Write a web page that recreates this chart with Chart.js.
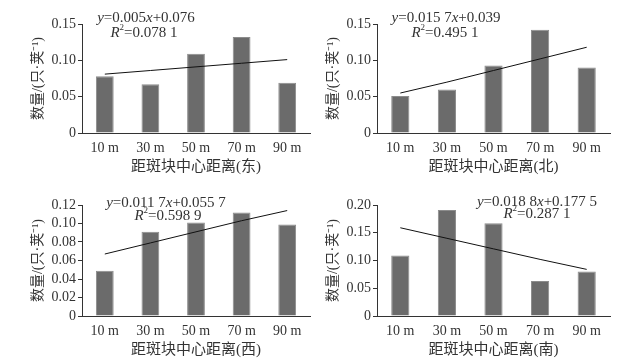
<!DOCTYPE html>
<html>
<head>
<meta charset="utf-8">
<script src="https://cdn.jsdelivr.net/npm/chart.js@4.4.1/dist/chart.umd.min.js"></script>
<style>
  html, body { margin: 0; padding: 0; background: #fff; }
  body { width: 626px; height: 363px; position: relative; overflow: hidden; }
  canvas { position: absolute; }
</style>
</head>
<body>
<canvas id="east" width="313" height="180" style="left:0;top:0"></canvas>
<canvas id="north" width="331" height="180" style="left:295px;top:0"></canvas>
<canvas id="west" width="313" height="183" style="left:0;top:180px"></canvas>
<canvas id="south" width="331" height="183" style="left:295px;top:180px"></canvas>
<script>
// 数据
const categories = ["10 m", "30 m", "50 m", "70 m", "90 m"];

const eastValues  = [0.078, 0.067, 0.109, 0.132, 0.069];
const northValues = [0.051, 0.060, 0.093, 0.142, 0.090];
const westValues  = [0.049, 0.091, 0.101, 0.112, 0.099];
const southValues = [0.109, 0.191, 0.167, 0.063, 0.080];

// 趋势线
const eastTrend  = [0.081, 0.086, 0.091, 0.096, 0.101];
const northTrend = [0.055, 0.070, 0.086, 0.102, 0.118];
const westTrend  = [0.067, 0.079, 0.091, 0.103, 0.114];
const southTrend = [0.159, 0.140, 0.121, 0.102, 0.084];

// 坐标轴
const eastAxis  = { max: 0.15, step: 0.05 };
const northAxis = { max: 0.15, step: 0.05 };
const westAxis  = { max: 0.12, step: 0.02 };
const southAxis = { max: 0.20, step: 0.05 };

const yTitle = "数量/(只·荚⁻¹)";
const xTitles = ["距斑块中心距离(东)", "距斑块中心距离(北)", "距斑块中心距离(西)", "距斑块中心距离(南)"];

const eqTexts = [
    ["0.005", "+0.076", "0.078 1"],
    ["0.015 7", "+0.039", "0.495 1"],
    ["0.011 7", "+0.055 7", "0.598 9"],
    ["0.018 8", "+0.177 5", "0.287 1"]
];

const FONT = "'Liberation Serif', 'Noto Sans CJK SC', serif";
const TEXT = "#333";

// 回归方程文字
const eqPlugin = {
    id: "eq",
    afterDraw(chart, args, opts) {
        const ctx = chart.ctx;
        ctx.save();
        ctx.fillStyle = TEXT;
        ctx.textBaseline = "middle";
        opts.lines.forEach(line => {
            const fontOf = p => (p.it ? "italic " : "") + (p.sup ? 9 : 15) + "px " + FONT;
            let total = 0;
            line.parts.forEach(p => { ctx.font = fontOf(p); total += ctx.measureText(p.t).width; });
            let x = line.x - total / 2;
            line.parts.forEach(p => {
                ctx.font = fontOf(p);
                ctx.fillText(p.t, x, line.y + (p.sup ? -5 : 0));
                x += ctx.measureText(p.t).width;
            });
        });
        ctx.restore();
    }
};

function makeChart(id, values, trend, axis, xTitle, eq, eqPos, padRight) {
    const ctx = document.getElementById(id);
    return new Chart(ctx, {
        data: {
            labels: categories,
            datasets: [
                {
                    type: "line",
                    data: trend,
                    borderColor: "#111",
                    borderWidth: 1,
                    pointRadius: 0,
                    fill: false,
                    order: 0
                },
                {
                    type: "bar",
                    data: values,
                    backgroundColor: "#6b6b6b",
                    borderColor: "#8c8c8c",
                    borderWidth: 1,
                    categoryPercentage: 1,
                    barPercentage: 0.39,
                    order: 1
                }
            ]
        },
        options: {
            responsive: false,
            animation: false,
            layout: { padding: { top: eqPos.top, right: padRight, left: 0, bottom: 0 } },
            plugins: {
                legend: { display: false },
                tooltip: { enabled: false },
                eq: {
                    lines: [
                        { x: eqPos.x1, y: eqPos.y1, parts: [
                            { t: "y", it: true }, { t: "=" + eq[0] }, { t: "x", it: true }, { t: eq[1] }
                        ] },
                        { x: eqPos.x2, y: eqPos.y2, parts: [
                            { t: "R", it: true }, { t: "2", sup: true }, { t: "=" + eq[2] }
                        ] }
                    ]
                }
            },
            scales: {
                x: {
                    grid: { display: false, drawTicks: false },
                    border: { display: true, color: "#333", width: 1 },
                    ticks: { color: TEXT, font: { family: FONT, size: 14 }, padding: 7, autoSkip: false, maxRotation: 0 },
                    title: {
                        display: true, text: xTitle, color: TEXT,
                        font: { family: FONT, size: 15 }, padding: { top: 0, bottom: 4 }
                    },
                    afterFit: s => { s.height = 47; }
                },
                y: {
                    min: 0,
                    max: axis.max,
                    grid: { drawOnChartArea: false, tickLength: 4, color: "#333" },
                    border: { display: true, color: "#333", width: 1 },
                    ticks: {
                        stepSize: axis.step,
                        autoSkip: false,
                        color: TEXT,
                        font: { family: FONT, size: 14 },
                        padding: 2,
                        callback: v => v === 0 ? "0" : v.toFixed(2)
                    },
                    title: {
                        display: true, text: yTitle, color: TEXT,
                        font: { family: FONT, size: 14 }, padding: { top: 30, bottom: 0 }
                    },
                    afterFit: s => { s.width = 82; }
                }
            }
        },
        plugins: [eqPlugin]
    });
}

makeChart("east", eastValues, eastTrend, eastAxis, xTitles[0], eqTexts[0],
    { top: 24, x1: 146, y1: 18, x2: 144, y2: 33 }, 3);
makeChart("north", northValues, northTrend, northAxis, xTitles[1], eqTexts[1],
    { top: 24, x1: 151, y1: 18, x2: 150, y2: 33 }, 16);
makeChart("west", westValues, westTrend, westAxis, xTitles[2], eqTexts[2],
    { top: 25, x1: 166, y1: 23, x2: 168, y2: 36 }, 3);
makeChart("south", southValues, southTrend, southAxis, xTitles[3], eqTexts[3],
    { top: 25, x1: 242, y1: 22, x2: 242, y2: 34 }, 16);
</script>
</body>
</html>
